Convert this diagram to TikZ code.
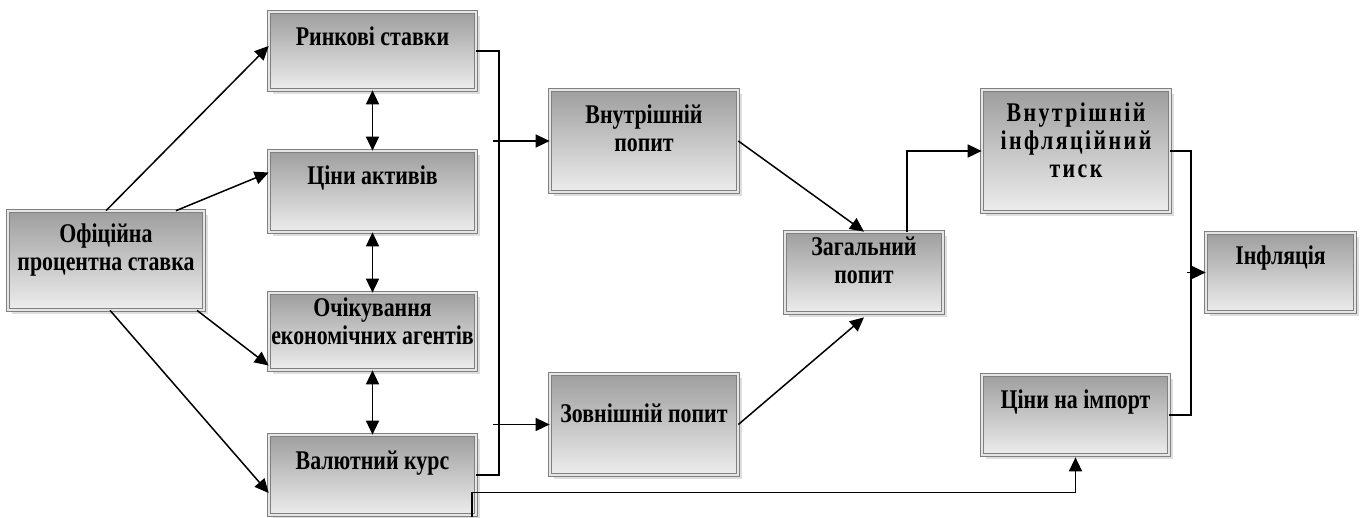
\documentclass[tikz,border=0pt]{standalone}
\usepackage{fontspec}
\setmainfont{Liberation Serif}[FakeStretch=0.81]
\usetikzlibrary{arrows.meta,shadows,calc}
\tikzset{
  bx/.style={rectangle, draw=black!50, double=black!10, double distance=2pt, line width=0.7pt,
    top color=black!38, bottom color=black!7, inner sep=0pt,
    drop shadow={shadow xshift=4pt, shadow yshift=-4pt, fill=black!13, opacity=1}},
  lbl/.style={font=\bfseries\fontsize{27}{28}\selectfont, align=center, inner sep=0pt},
  wide/.style={font=\bfseries\fontsize{27}{28}\selectfont\addfontfeature{LetterSpace=9}},
  con/.style={line width=1.5pt},
  arr/.style={con, -{Triangle[length=14pt,width=13pt]}},
  darr/.style={con, {Triangle[length=14pt,width=13pt]}-{Triangle[length=14pt,width=13pt]}}
}
\begin{document}
\begin{tikzpicture}[x=1pt,y=-1pt]
\useasboundingbox (0,0) rectangle (1365,517);
% boxes
\node[bx, minimum width=196pt, minimum height=99pt] (off) at (106,260.5) {};
\node[bx, minimum width=207pt, minimum height=78pt] (rin) at (372.5,51) {};
\node[bx, minimum width=207pt, minimum height=81pt] (cin) at (372.5,191.5) {};
\node[bx, minimum width=207pt, minimum height=77pt] (och) at (372.5,331.5) {};
\node[bx, minimum width=207pt, minimum height=80pt] (val) at (372.5,475) {};
\node[bx, minimum width=188pt, minimum height=102pt] (vnp) at (644,141) {};
\node[bx, minimum width=188pt, minimum height=101pt] (zvp) at (644,424.5) {};
\node[bx, minimum width=158pt, minimum height=81pt] (zag) at (864,272.5) {};
\node[bx, minimum width=188pt, minimum height=122pt] (vit) at (1076,151) {};
\node[bx, minimum width=187pt, minimum height=80pt] (imp) at (1075.5,415) {};
\node[bx, minimum width=149pt, minimum height=79pt] (inf) at (1280.5,272.5) {};
% texts
\node[lbl] (offT) at ([yshift=10pt]off.center) {Офіційна\\процентна ставка};
\node[lbl] (rinT) at ([yshift=15pt]rin.center) {Ринкові ставки};
\node[lbl] (cinT) at ([yshift=13pt]cin.center) {Ціни активів};
\node[lbl] (ochT) at ([yshift=10pt]och.center) {Очікування\\економічних агентів};
\node[lbl] (valT) at ([yshift=12pt]val.center) {Валютний курс};
\node[lbl] (vnpT) at ([yshift=13pt]vnp.center) {Внутрішній\\попит};
\node[lbl] (zvpT) at ([yshift=11pt]zvp.center) {Зовнішній попит};
\node[lbl] (zagT) at ([yshift=12pt]zag.center) {Загальний\\попит};
\node[lbl, wide] (vitT) at ([yshift=11pt]vit.center) {Внутрішній\\інфляційний\\тиск};
\node[lbl] (impT) at ([yshift=13pt]imp.center) {Ціни на імпорт};
\node[lbl] (infT) at ([yshift=14pt]inf.center) {Інфляція};
% connectors from official rate
\draw[arr] (off.north) -- ([yshift=5pt]rin.west);
\draw[arr] ([xshift=70pt]off.north) -- ([yshift=19pt]cin.west);
\draw[arr] ([xshift=91pt]off.south) -- ([yshift=-34pt]och.west);
\draw[arr] ([xshift=4pt]off.south) -- ([yshift=-18pt]val.west);
% double arrows
\draw[darr] (rin.south) -- (cin.north);
\draw[darr] (cin.south) -- (och.north);
\draw[darr] (och.south) -- (val.north);
% bus
\coordinate (busT) at (499,51);
\coordinate (busB) at (499,475);
\draw[con] (rin.east) -- (busT) -- (busB) -- (val.east);
\coordinate (s1) at (493,141);
\coordinate (s2) at (493,424.5);
\draw[arr] (s1) -- (vnp.west);
\draw[arr] (s2) -- (zvp.west);
% to aggregate demand
\draw[arr] (vnp.east) -- (zag.north);
\draw[arr] (zvp.east) -- ([yshift=-4pt]zag.south);
\draw[arr] ([xshift=43pt]zag.north) |- (vit.west);
% to inflation
\coordinate (r1) at (1191,151);
\coordinate (r2) at (1191,415);
\draw[con] (vit.east) -- (r1) -- (r2) -- (imp.east);
\coordinate (s3) at (1187,272.5);
\draw[arr] (s3) -- (inf.west);
% exchange rate to import prices
\coordinate (vb) at (472,517);
\draw[arr] (vb) |- ([yshift=-37pt]imp.south) -- ([yshift=-2pt]imp.south);
\end{tikzpicture}
\end{document}
